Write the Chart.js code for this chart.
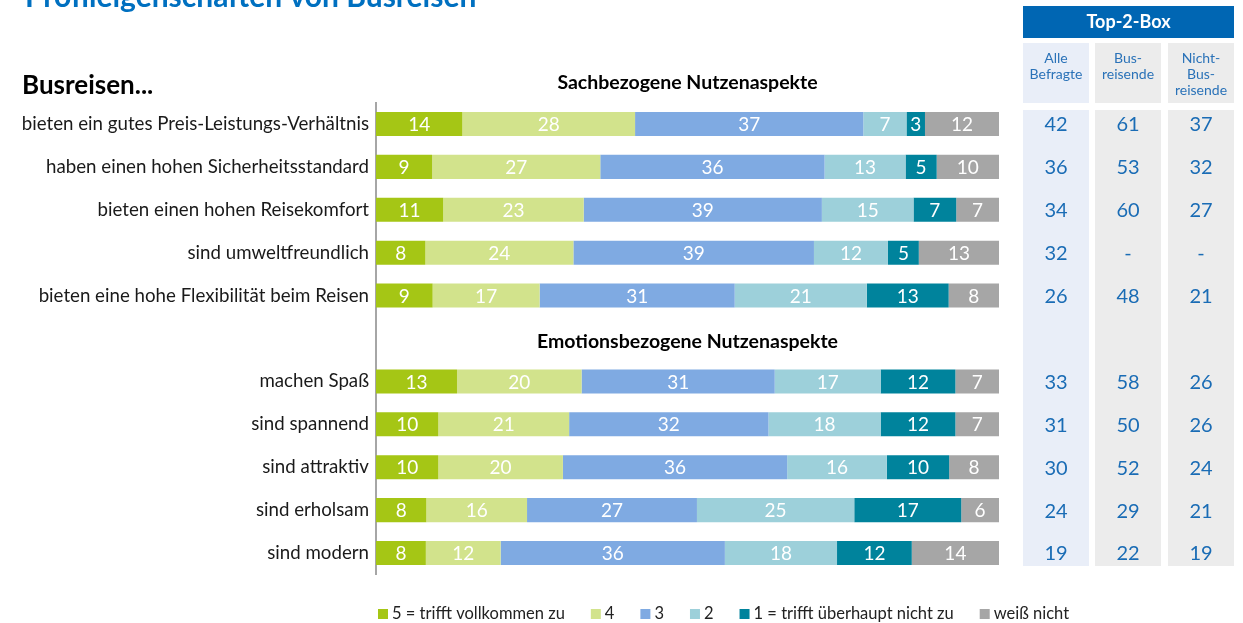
<!DOCTYPE html>
<html>
<head>
<meta charset="utf-8">
<script src="https://cdn.jsdelivr.net/npm/chart.js@4.4.1/dist/chart.umd.min.js"></script>
<style>
html,body{margin:0;padding:0;background:#fff;}
#wrap{width:1243px;height:623px;position:relative;}
</style>
</head>
<body>
<div id="wrap"><canvas id="c" width="1243" height="623"></canvas></div>
<script>
// ---- DATA ----
const categories = [
  'bieten ein gutes Preis-Leistungs-Verhältnis',
  'haben einen hohen Sicherheitsstandard',
  'bieten einen hohen Reisekomfort',
  'sind umweltfreundlich',
  'bieten eine hohe Flexibilität beim Reisen',
  '',
  'machen Spaß',
  'sind spannend',
  'sind attraktiv',
  'sind erholsam',
  'sind modern'
];
const seriesLabels = ['5 = trifft vollkommen zu', '4', '3', '2', '1 = trifft überhaupt nicht zu', 'weiß nicht'];
const s5  = [14,  9, 11,  8,  9, null, 13, 10, 10,  8,  8];
const s4  = [28, 27, 23, 24, 17, null, 20, 21, 20, 16, 12];
const s3  = [37, 36, 39, 39, 31, null, 31, 32, 36, 27, 36];
const s2  = [ 7, 13, 15, 12, 21, null, 17, 18, 16, 25, 18];
const s1  = [ 3,  5,  7,  5, 13, null, 12, 12, 10, 17, 12];
const sDK = [12, 10,  7, 13,  8, null,  7,  7,  8,  6, 14];
const top2All    = ['42','36','34','32','26', null,'33','31','30','24','19'];
const top2Bus    = ['61','53','60','-','48', null,'58','50','52','29','22'];
const top2NonBus = ['37','32','27','-','21', null,'26','26','24','21','19'];
const tableHeaders = [['Alle','Befragte'], ['Bus-','reisende'], ['Nicht-','Bus-','reisende']];
const sectionHeadings = ['Sachbezogene Nutzenaspekte', 'Emotionsbezogene Nutzenaspekte'];
const titleText = 'Profileigenschaften von Busreisen';

const colors = ['#a5c615', '#d2e38c', '#7faae2', '#9dd0da', '#00839c', '#a6a6a6'];
const raw = [s5, s4, s3, s2, s1, sDK];
const FONT = 'Lato, "Open Sans", sans-serif';

// bars shown as share of each row's total (100 % stacked)
const rowSums = categories.map((_, i) => raw.reduce((a, s) => a + (s[i] || 0), 0));
const datasets = raw.map((s, k) => ({
  label: seriesLabels[k],
  data: s.map((v, i) => v == null ? null : v / rowSums[i] * 100),
  rawValues: s,
  backgroundColor: colors[k],
  borderWidth: 0,
  barPercentage: 0.56,
  categoryPercentage: 1.0
}));

const decor = {
  id: 'decor',
  beforeDraw(chart) {
    const ctx = chart.ctx;
    ctx.save();
    // title (cropped at top)
    ctx.fillStyle = '#0070c0';
    ctx.font = 'bold 30px ' + FONT;
    ctx.textAlign = 'left';
    ctx.textBaseline = 'alphabetic';
    ctx.fillText(titleText, 25, 7);
    // Busreisen...
    ctx.fillStyle = '#000';
    ctx.font = 'bold 26px ' + FONT;
    ctx.fillText('Busreisen...', 22, 94);
    // table backgrounds
    const cols = [[1023, 1089, '#e9eef8'], [1095, 1161, '#ececec'], [1168, 1234, '#ececec']];
    cols.forEach(c => {
      ctx.fillStyle = c[2];
      ctx.fillRect(c[0], 43, c[1] - c[0], 60);
      ctx.fillRect(c[0], 110, c[1] - c[0], 456);
    });
    ctx.fillStyle = '#0066b3';
    ctx.fillRect(1023, 6, 211, 32);
    ctx.fillStyle = '#fff';
    ctx.font = 'bold 18px ' + FONT;
    ctx.textAlign = 'center';
    ctx.textBaseline = 'middle';
    ctx.fillText('Top-2-Box', 1128.5, 22);
    ctx.fillStyle = '#2a72b8';
    ctx.font = '14px ' + FONT;
    tableHeaders.forEach((lines, j) => {
      const cx = (cols[j][0] + cols[j][1]) / 2;
      lines.forEach((t, l) => ctx.fillText(t, cx, 58 + l * 16));
    });
    ctx.restore();
  },
  afterDatasetsDraw(chart) {
    const ctx = chart.ctx;
    const y = chart.scales.y;
    const area = chart.chartArea;
    ctx.save();
    // segment labels
    ctx.fillStyle = '#fff';
    ctx.font = '19px ' + FONT;
    ctx.textAlign = 'center';
    ctx.textBaseline = 'middle';
    chart.data.datasets.forEach((ds, k) => {
      const meta = chart.getDatasetMeta(k);
      meta.data.forEach((el, i) => {
        const v = ds.rawValues[i];
        if (v == null) return;
        ctx.fillText(String(v), (el.x + el.base) / 2, el.y + 1);
      });
    });
    // section headings
    const step = y.getPixelForValue(1) - y.getPixelForValue(0);
    ctx.fillStyle = '#000';
    ctx.font = 'bold 19.5px ' + FONT;
    const midX = (area.left + area.right) / 2;
    ctx.fillText(sectionHeadings[0], midX, y.getPixelForValue(0) - step + 2);
    ctx.fillText(sectionHeadings[1], midX, y.getPixelForValue(5) + 3);
    // table values
    ctx.fillStyle = '#1a6cb5';
    ctx.font = '20px ' + FONT;
    const colX = [1056, 1128, 1201];
    [top2All, top2Bus, top2NonBus].forEach((arr, j) => {
      arr.forEach((t, i) => {
        if (t == null) return;
        ctx.fillText(t, colX[j], y.getPixelForValue(i) + 1);
      });
    });
    // legend
    ctx.font = '16.5px ' + FONT;
    ctx.textAlign = 'left';
    let x = 378;
    const ly = 614;
    chart.data.datasets.forEach((ds) => {
      ctx.fillStyle = ds.backgroundColor;
      ctx.fillRect(x, ly - 5, 10, 10);
      ctx.fillStyle = '#222';
      ctx.fillText(ds.label, x + 14, ly);
      x += 14 + ctx.measureText(ds.label).width + 26;
    });
    ctx.restore();
  }
};

new Chart(document.getElementById('c'), {
  type: 'bar',
  data: { labels: categories, datasets },
  options: {
    indexAxis: 'y',
    responsive: false,
    animation: false,
    devicePixelRatio: 1,
    layout: { padding: { left: 0, right: 244, top: 102.5, bottom: 48.5 } },
    plugins: { legend: { display: false }, tooltip: { enabled: false } },
    scales: {
      x: { stacked: true, min: 0, max: 100, display: false },
      y: {
        stacked: true,
        grid: { display: false, drawTicks: false },
        border: { display: true, color: '#a6a6a6', width: 2 },
        ticks: { color: '#1a1a1a', font: { family: FONT, size: 18.7 }, padding: 7 },
        afterFit(scale) { scale.width = 376; }
      }
    }
  },
  plugins: [decor]
});
</script>
</body>
</html>
